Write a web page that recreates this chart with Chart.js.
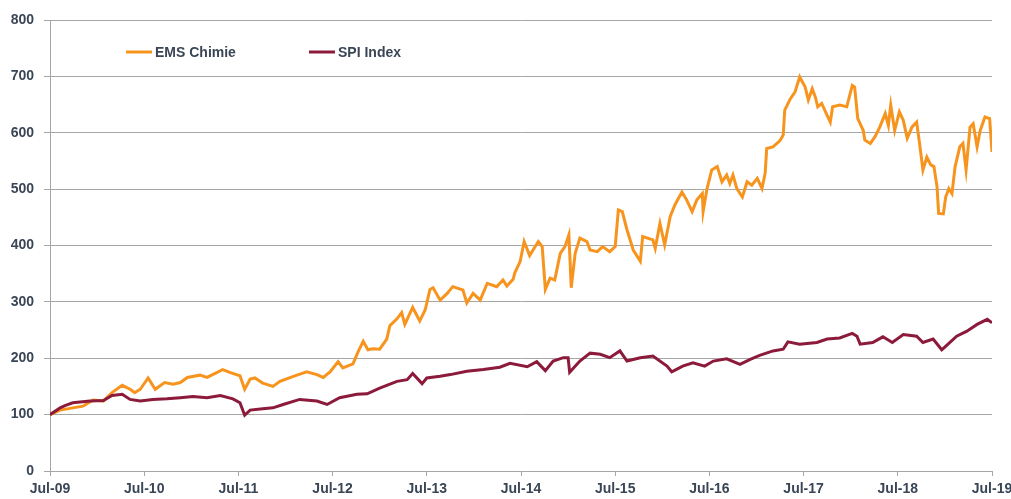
<!DOCTYPE html>
<html>
<head>
<meta charset="utf-8">
<script src="https://cdn.jsdelivr.net/npm/chart.js@4.4.1/dist/chart.umd.min.js"></script>
<style>
html,body{margin:0;padding:0;background:#fff;}
#wrap{width:1011px;height:499px;}
</style>
</head>
<body>
<div id="wrap"><canvas id="c" width="1011" height="499"></canvas></div>
<script>
// X positions are months elapsed since Jul-09
const tickLabels = ["Jul-09","Jul-10","Jul-11","Jul-12","Jul-13","Jul-14","Jul-15","Jul-16","Jul-17","Jul-18","Jul-19"];
const seriesNames = ["EMS Chimie", "SPI Index"];

const emsMonths = [0,1.3,2.9,4.2,5.5,6.8,7.9,9.2,10.2,10.8,11.5,12.5,13.4,14.6,15.7,16.6,17.5,19.1,20.0,21.3,22.0,22.9,24.2,24.8,25.5,26.1,27.1,28.4,29.3,31.0,32.7,34.0,34.8,35.7,36.7,37.3,38.6,39.2,39.9,40.5,41.1,42.0,42.9,43.3,44.2,44.8,45.2,45.6,46.2,47.1,47.8,48.4,48.8,49.7,50.6,51.3,52.6,53.1,53.9,54.8,55.7,56.9,57.7,58.2,59.0,59.2,59.9,60.4,61.1,62.2,62.7,63.1,63.7,64.3,65.0,65.6,66.1,66.4,66.9,67.5,68.4,68.8,69.7,70.4,71.3,72.0,72.4,72.9,73.5,74.3,75.2,75.5,76.8,77.1,77.7,78.3,79.0,79.6,80.5,81.1,81.8,82.4,83.1,83.2,83.7,84.3,85.0,85.6,86.2,86.6,87.0,87.5,88.2,88.8,89.4,90.1,90.7,91.1,91.3,92.1,93.0,93.4,93.6,94.3,94.9,95.5,96.2,96.6,97.1,97.5,97.8,98.3,99.0,99.4,99.7,100.6,101.5,102.2,102.5,102.9,103.6,103.8,104.5,105.1,105.7,106.4,106.8,107.1,107.6,108.2,108.7,109.2,109.8,110.4,110.8,111.2,111.7,112.2,112.6,113.0,113.2,113.8,114.1,114.5,114.9,115.3,115.9,116.3,116.7,117.2,117.6,118.1,118.5,119.1,119.7,120.0];
const emsValues = [100,108,112,115,126,124,139,152,145,139,145,165,145,157,154,157,166,170,166,175,180,175,169,145,163,165,156,150,159,168,176,171,166,176,194,183,190,210,230,215,217,216,234,258,270,281,260,272,290,266,286,322,325,303,315,327,321,298,315,303,333,327,339,328,340,351,372,407,382,407,398,322,342,339,386,398,419,325,386,413,407,392,389,398,389,398,463,460,428,392,372,416,410,395,439,401,451,472,495,481,460,481,492,460,501,534,540,513,525,510,525,501,486,513,507,519,501,528,572,575,586,596,640,660,672,699,681,658,678,663,646,652,631,619,646,649,646,684,681,625,604,587,581,593,610,634,613,649,604,637,622,590,610,619,578,534,557,543,540,504,457,456,486,501,492,540,575,581,534,610,616,575,604,628,625,566];

const spiMonths = [0,1.3,1.9,2.9,5.1,6.8,7.9,9.2,10.2,11.5,13.1,14.9,16.6,18.2,20.0,21.7,23.3,24.2,24.8,25.5,26.8,28.4,29.7,31.8,34.0,35.3,36.9,39.1,40.4,42.0,44.2,45.5,46.2,47.4,48.0,49.7,51.0,53.1,55.2,57.3,58.6,60.8,62.0,63.1,64.1,65.4,66.0,66.2,67.5,68.8,70.1,71.3,72.6,73.5,75.2,76.8,78.6,79.2,80.6,81.9,83.4,84.5,86.2,87.9,89.2,90.4,92.1,93.4,94.0,95.5,97.7,99.0,100.6,102.2,102.8,103.2,104.8,106.1,107.3,108.7,110.4,111.2,112.5,113.6,114.4,115.5,116.8,118.1,119.4,120.0];
const spiValues = [100,112,116,121,124,125,134,136,127,124,127,128,130,132,130,134,128,121,99,108,110,112,118,127,124,118,130,136,137,147,159,162,173,155,165,168,171,177,180,184,191,185,194,178,195,201,201,175,195,209,207,201,213,195,201,204,186,176,186,192,186,195,199,189,198,205,213,216,229,225,228,234,236,244,239,225,228,238,228,242,239,228,234,215,225,239,248,260,269,263];

const yTicks = {min: 0, max: 800, step: 100};
const colors = ["#F7941E", "#8C1A3A"];
const textColor = "#3A4656";
const gridColor = "#A6A6A6";
const fontFamily = "'Liberation Sans', Arial, sans-serif";
const fontSize = 14;

const toPts = (xs, ys) => xs.map((m, i) => ({x: m, y: ys[i]}));

const legendPlugin = {
  id: 'inlineLegend',
  afterDraw(chart) {
    const ctx = chart.ctx;
    const items = [
      {x: 126, label: chart.data.datasets[0].label, color: chart.data.datasets[0].borderColor},
      {x: 309, label: chart.data.datasets[1].label, color: chart.data.datasets[1].borderColor}
    ];
    const y = 52;
    ctx.save();
    ctx.font = "bold " + fontSize + "px " + fontFamily;
    ctx.textBaseline = 'middle';
    ctx.fillStyle = textColor;
    items.forEach(it => {
      ctx.strokeStyle = it.color;
      ctx.lineWidth = 3;
      ctx.beginPath();
      ctx.moveTo(it.x, y);
      ctx.lineTo(it.x + 26, y);
      ctx.stroke();
      ctx.fillText(it.label, it.x + 29, y + 1);
    });
    ctx.restore();
  }
};

new Chart(document.getElementById('c'), {
  type: 'line',
  data: {
    datasets: [
      {label: seriesNames[0], data: toPts(emsMonths, emsValues), borderColor: colors[0], backgroundColor: colors[0], borderWidth: 3, pointRadius: 0, tension: 0, order: 2},
      {label: seriesNames[1], data: toPts(spiMonths, spiValues), borderColor: colors[1], backgroundColor: colors[1], borderWidth: 3, pointRadius: 0, tension: 0, order: 1}
    ]
  },
  options: {
    responsive: false,
    animation: false,
    events: [],
    layout: {padding: {top: 20, right: 19, left: 0, bottom: 0}},
    plugins: {legend: {display: false}, tooltip: {enabled: false}},
    scales: {
      x: {
        type: 'linear', min: 0, max: 120,
        afterFit(s) { s.height = 28; s.paddingLeft = 0; s.paddingRight = 0; },
        ticks: {
          stepSize: 12, maxRotation: 0, autoSkip: false, padding: 5,
          color: textColor, font: {family: fontFamily, size: fontSize, weight: 'bold'},
          callback: (v) => tickLabels[Math.round(v / 12)]
        },
        grid: {drawOnChartArea: false, drawTicks: true, tickLength: 5, tickColor: gridColor, color: gridColor},
        border: {display: true, color: gridColor, width: 1}
      },
      y: {
        min: yTicks.min, max: yTicks.max,
        afterFit(s) { s.width = 50; s.paddingTop = 0; s.paddingBottom = 0; },
        ticks: {
          stepSize: yTicks.step, padding: 10,
          color: textColor, font: {family: fontFamily, size: fontSize, weight: 'bold'}
        },
        grid: {color: gridColor, lineWidth: 1, tickLength: 6, tickColor: gridColor},
        border: {display: true, color: gridColor, width: 1}
      }
    }
  },
  plugins: [legendPlugin]
});
</script>
</body>
</html>
